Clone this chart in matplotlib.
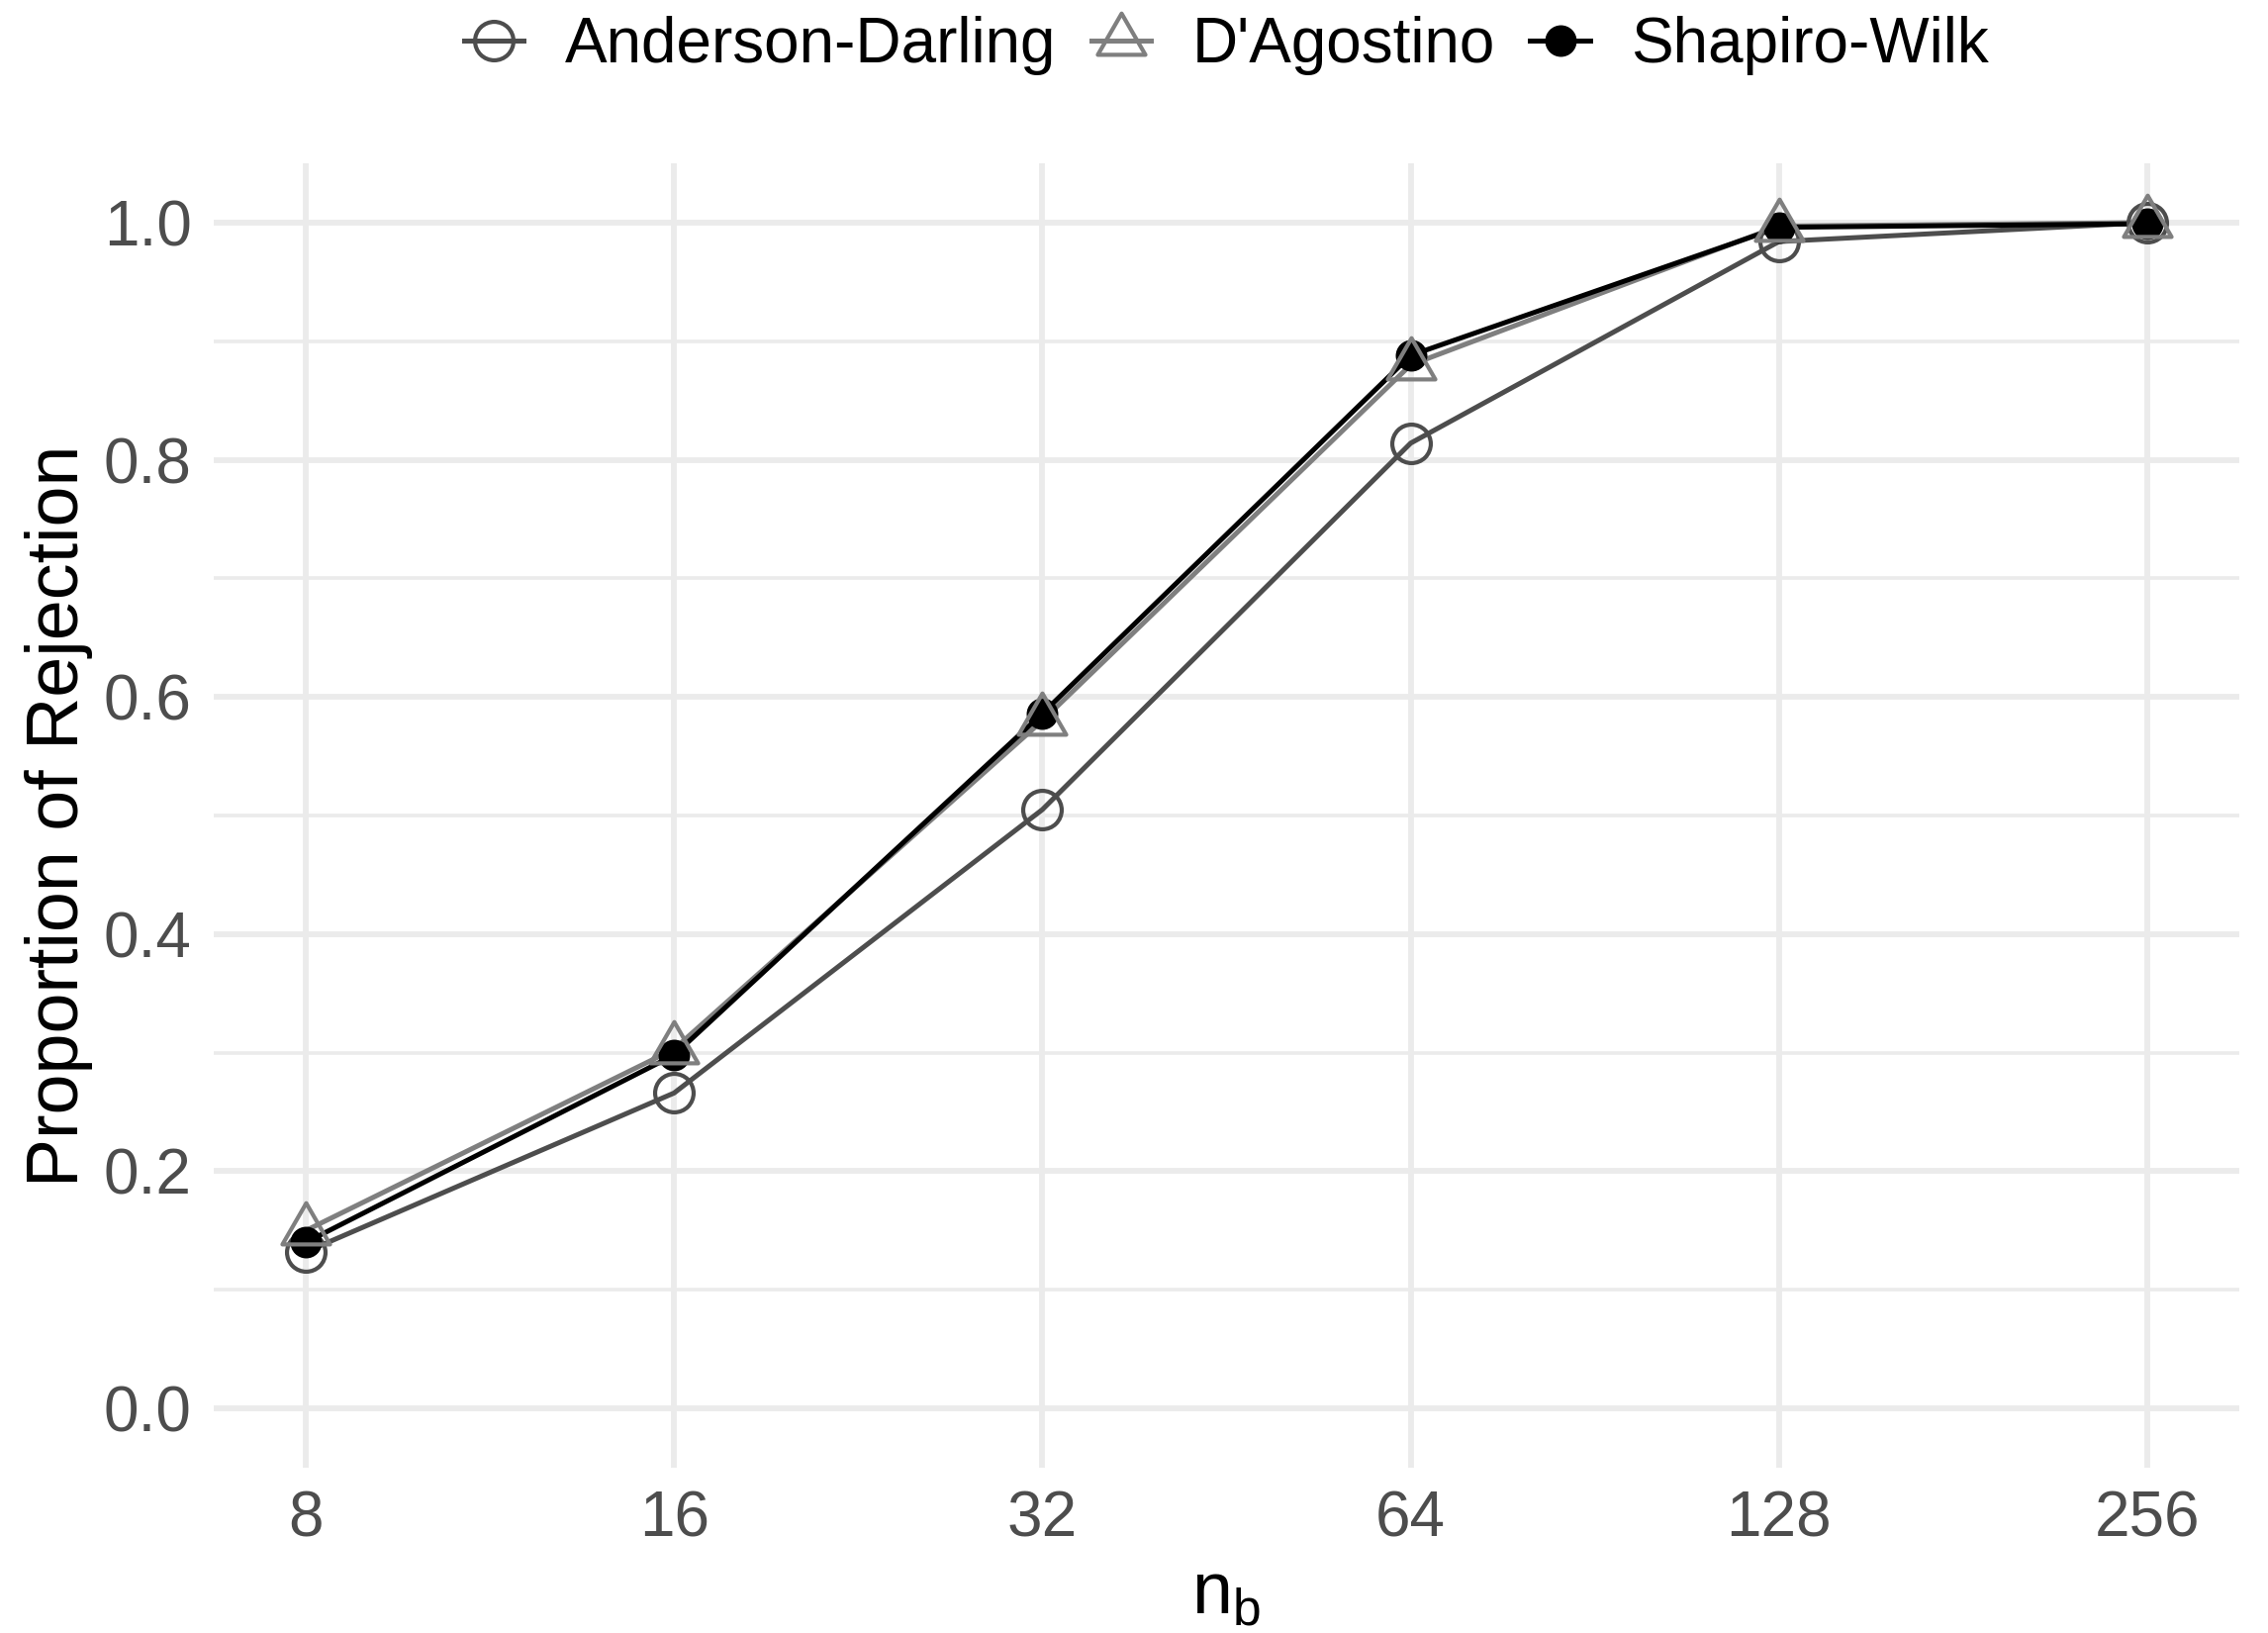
import matplotlib
matplotlib.use("Agg")
import matplotlib.pyplot as plt
import numpy as np
from matplotlib.path import Path
from matplotlib.lines import Line2D

plt.rcParams['font.family'] = ['Liberation Sans', 'DejaVu Sans']

nb = [8, 16, 32, 64, 128, 256]
tick_labels = ["8", "16", "32", "64", "128", "256"]
anderson = [0.132, 0.266, 0.505, 0.814, 0.984, 1.000]
dagostino = [0.150, 0.303, 0.580, 0.880, 0.997, 1.000]
shapiro = [0.140, 0.298, 0.586, 0.888, 0.996, 0.999]

c_ad = "#4D4D4D"
c_da = "#7F7F7F"
c_sw = "#000000"

tri = Path([(0, 1.0), (-0.866, -0.5), (0.866, -0.5), (0, 1.0)],
           [Path.MOVETO, Path.LINETO, Path.LINETO, Path.CLOSEPOLY])

fig = plt.figure(figsize=(2292/200, 1650/200), dpi=200)
ax = fig.add_axes([216/2292, 1 - 1483/1650, (2263-216)/2292, (1483-165)/1650])

ax.set_xscale('log', base=2)
ax.set_xlim(8 / 2**0.25, 256 * 2**0.25)
ax.set_ylim(-0.05, 1.05)

ax.set_xticks(nb)
ax.set_xticklabels(tick_labels)
ax.xaxis.set_minor_locator(matplotlib.ticker.NullLocator())
ax.set_yticks([0, 0.2, 0.4, 0.6, 0.8, 1.0])
ax.set_yticklabels(["0.0", "0.2", "0.4", "0.6", "0.8", "1.0"])
ax.set_yticks([0.1, 0.3, 0.5, 0.7, 0.9], minor=True)

ax.grid(True, which='major', color='#EBEBEB', linewidth=2.1)
ax.grid(True, which='minor', axis='y', color='#EBEBEB', linewidth=1.3)
ax.set_axisbelow(True)
for s in ax.spines.values():
    s.set_visible(False)
ax.tick_params(which='both', length=0)
ax.tick_params(axis='y', labelsize=23, labelcolor='#4D4D4D', pad=8)
ax.tick_params(axis='x', labelsize=23, labelcolor='#4D4D4D', pad=8)

lw = 1.8
ax.plot(nb, anderson, color=c_ad, lw=lw, zorder=3)
ax.plot(nb, dagostino, color=c_da, lw=lw, zorder=3)
ax.plot(nb, shapiro, color=c_sw, lw=lw, zorder=3)

ax.plot(nb, anderson, ls='none', marker='o', ms=14, mfc='none', mec=c_ad, mew=1.5, zorder=4)
ax.plot(nb, shapiro, ls='none', marker='o', ms=11.5, mfc=c_sw, mec=c_sw, mew=0, zorder=5)
ax.plot(nb, dagostino, ls='none', marker=tri, ms=20, mfc='none', mec=c_da, mew=1.5, zorder=6)

ax.set_xlabel(r"n$_\mathregular{b}$", fontsize=26.5, labelpad=4)
ax.set_ylabel("Proportion of Rejection", fontsize=26.5, labelpad=4)

handles = [
    Line2D([], [], color=c_ad, lw=lw, marker='o', ms=14, mfc='none', mec=c_ad, mew=1.5),
    Line2D([], [], color=c_da, lw=lw, marker=tri, ms=20, mfc='none', mec=c_da, mew=1.5),
    Line2D([], [], color=c_sw, lw=lw, marker='o', ms=11.5, mfc=c_sw, mec=c_sw, mew=0),
]
fig.legend(handles, ["Anderson-Darling", "D'Agostino", "Shapiro-Wilk"],
           loc='center', bbox_to_anchor=((216 + 2263) / 2 / 2292, 1 - 46/1650), ncol=3,
           frameon=False, fontsize=23, handlelength=0.95, handletextpad=0.65,
           columnspacing=0.55)

fig.savefig("out.png", dpi=200, facecolor='white')
